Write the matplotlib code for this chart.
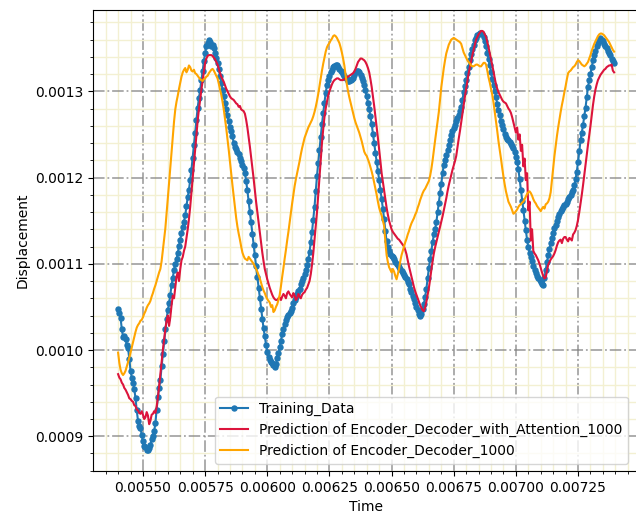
import numpy as np
import matplotlib
matplotlib.use('Agg')
import matplotlib.pyplot as plt
from matplotlib.ticker import AutoMinorLocator

# time axis: samples 5 us apart
t_start = 0.0054
t_step = 0.000005

# displacement values, in units of 1e-3
training_data = [
    1.048, 1.043, 1.037, 1.024, 1.015, 1.016, 1.013, 1.006, 1.002, 0.990, 0.976, 0.968, 0.962, 0.955, 0.944, 0.930, 0.918, 0.912, 0.910, 0.901,
    0.894, 0.889, 0.888, 0.884, 0.884, 0.886, 0.890, 0.897, 0.900, 0.906, 0.915, 0.931, 0.945, 0.956, 0.965, 0.981, 0.995, 1.010, 1.024, 1.036,
    1.046, 1.054, 1.064, 1.075, 1.084, 1.093, 1.100, 1.105, 1.112, 1.121, 1.128, 1.136, 1.143, 1.149, 1.156, 1.167, 1.177, 1.186, 1.197, 1.209,
    1.223, 1.238, 1.252, 1.267, 1.281, 1.292, 1.301, 1.313, 1.323, 1.335, 1.344, 1.352, 1.356, 1.359, 1.357, 1.353, 1.354, 1.350, 1.345, 1.339,
    1.333, 1.326, 1.318, 1.310, 1.302, 1.295, 1.287, 1.279, 1.272, 1.265, 1.259, 1.254, 1.248, 1.240, 1.235, 1.233, 1.230, 1.227, 1.223, 1.219,
    1.214, 1.211, 1.205, 1.196, 1.185, 1.173, 1.160, 1.148, 1.135, 1.122, 1.110, 1.097, 1.085, 1.072, 1.060, 1.048, 1.036, 1.025, 1.016, 1.006,
    0.998, 0.992, 0.989, 0.986, 0.985, 0.983, 0.980, 0.984, 0.991, 0.997, 1.003, 1.011, 1.018, 1.024, 1.030, 1.035, 1.038, 1.041, 1.043, 1.045,
    1.049, 1.055, 1.058, 1.061, 1.065, 1.068, 1.071, 1.076, 1.080, 1.084, 1.088, 1.093, 1.099, 1.105, 1.114, 1.125, 1.137, 1.151, 1.166, 1.184,
    1.202, 1.217, 1.232, 1.247, 1.262, 1.275, 1.287, 1.298, 1.307, 1.313, 1.318, 1.322, 1.325, 1.328, 1.329, 1.331, 1.330, 1.328, 1.326, 1.324,
    1.322, 1.320, 1.318, 1.316, 1.314, 1.312, 1.312, 1.313, 1.314, 1.316, 1.319, 1.322, 1.324, 1.324, 1.322, 1.319, 1.316, 1.312, 1.307, 1.301,
    1.294, 1.287, 1.279, 1.271, 1.262, 1.251, 1.240, 1.229, 1.218, 1.208, 1.197, 1.186, 1.175, 1.164, 1.152, 1.138, 1.126, 1.119, 1.115, 1.111,
    1.109, 1.108, 1.105, 1.102, 1.100, 1.099, 1.096, 1.094, 1.092, 1.089, 1.087, 1.085, 1.082, 1.079, 1.076, 1.071, 1.067, 1.063, 1.059, 1.054,
    1.050, 1.046, 1.042, 1.040, 1.042, 1.047, 1.053, 1.062, 1.071, 1.083, 1.095, 1.105, 1.115, 1.125, 1.134, 1.140, 1.148, 1.160, 1.171, 1.182,
    1.193, 1.205, 1.215, 1.220, 1.226, 1.232, 1.238, 1.244, 1.249, 1.254, 1.258, 1.261, 1.265, 1.269, 1.273, 1.277, 1.282, 1.290, 1.299, 1.306,
    1.313, 1.321, 1.328, 1.336, 1.343, 1.349, 1.354, 1.359, 1.362, 1.365, 1.366, 1.368, 1.368, 1.366, 1.363, 1.358, 1.352, 1.345, 1.337, 1.330,
    1.322, 1.314, 1.307, 1.300, 1.293, 1.285, 1.278, 1.272, 1.266, 1.261, 1.256, 1.251, 1.247, 1.245, 1.243, 1.241, 1.239, 1.237, 1.234, 1.230,
    1.224, 1.218, 1.210, 1.198, 1.185, 1.173, 1.162, 1.150, 1.139, 1.128, 1.119, 1.113, 1.108, 1.103, 1.098, 1.093, 1.089, 1.086, 1.083, 1.081,
    1.079, 1.077, 1.075, 1.083, 1.093, 1.102, 1.110, 1.117, 1.124, 1.130, 1.136, 1.141, 1.145, 1.150, 1.154, 1.158, 1.161, 1.164, 1.166, 1.168,
    1.169, 1.172, 1.175, 1.178, 1.180, 1.183, 1.186, 1.191, 1.198, 1.207, 1.218, 1.231, 1.243, 1.252, 1.261, 1.271, 1.281, 1.293, 1.305, 1.313,
    1.320, 1.328, 1.336, 1.342, 1.347, 1.352, 1.356, 1.360, 1.362, 1.360, 1.358, 1.355, 1.352, 1.350, 1.347, 1.345, 1.342, 1.338, 1.335, 1.333,
]

pred_attention = [
    0.972, 0.968, 0.966, 0.962, 0.960, 0.956, 0.954, 0.951, 0.948, 0.944, 0.943, 0.941, 0.940, 0.936, 0.935, 0.931, 0.930, 0.927, 0.926, 0.929,
    0.925, 0.920, 0.922, 0.928, 0.924, 0.914, 0.918, 0.925, 0.926, 0.929, 0.927, 0.934, 0.945, 0.958, 0.972, 0.986, 1.000, 1.012, 1.024, 1.034,
    1.040, 1.028, 1.038, 1.052, 1.063, 1.060, 1.072, 1.085, 1.090, 1.080, 1.094, 1.104, 1.108, 1.115, 1.120, 1.130, 1.140, 1.152, 1.166, 1.183,
    1.200, 1.216, 1.232, 1.249, 1.266, 1.279, 1.290, 1.302, 1.312, 1.323, 1.333, 1.338, 1.341, 1.342, 1.342, 1.342, 1.341, 1.339, 1.337, 1.334,
    1.331, 1.326, 1.321, 1.317, 1.314, 1.311, 1.307, 1.303, 1.300, 1.297, 1.294, 1.292, 1.291, 1.290, 1.288, 1.286, 1.285, 1.282, 1.283, 1.279,
    1.278, 1.277, 1.274, 1.267, 1.258, 1.247, 1.236, 1.224, 1.212, 1.199, 1.185, 1.172, 1.160, 1.147, 1.135, 1.124, 1.113, 1.103, 1.094, 1.088,
    1.082, 1.077, 1.072, 1.068, 1.064, 1.061, 1.059, 1.058, 1.058, 1.060, 1.061, 1.058, 1.062, 1.065, 1.063, 1.060, 1.066, 1.068, 1.065, 1.063,
    1.061, 1.066, 1.063, 1.058, 1.060, 1.065, 1.062, 1.060, 1.064, 1.066, 1.067, 1.070, 1.072, 1.076, 1.080, 1.088, 1.099, 1.112, 1.128, 1.143,
    1.160, 1.180, 1.201, 1.221, 1.240, 1.256, 1.270, 1.280, 1.288, 1.295, 1.300, 1.304, 1.308, 1.311, 1.313, 1.314, 1.315, 1.315, 1.314, 1.313,
    1.313, 1.313, 1.314, 1.315, 1.316, 1.317, 1.318, 1.319, 1.320, 1.321, 1.323, 1.326, 1.330, 1.334, 1.336, 1.338, 1.338, 1.337, 1.336, 1.334,
    1.331, 1.327, 1.322, 1.314, 1.305, 1.294, 1.283, 1.271, 1.259, 1.246, 1.233, 1.219, 1.205, 1.195, 1.185, 1.175, 1.165, 1.157, 1.150, 1.145,
    1.140, 1.137, 1.135, 1.133, 1.131, 1.129, 1.128, 1.126, 1.124, 1.122, 1.120, 1.116, 1.111, 1.104, 1.097, 1.091, 1.085, 1.079, 1.073, 1.068,
    1.064, 1.060, 1.056, 1.052, 1.049, 1.046, 1.045, 1.049, 1.056, 1.064, 1.072, 1.082, 1.093, 1.103, 1.112, 1.119, 1.125, 1.131, 1.137, 1.143,
    1.149, 1.155, 1.162, 1.169, 1.176, 1.184, 1.191, 1.197, 1.203, 1.209, 1.214, 1.219, 1.225, 1.235, 1.245, 1.254, 1.264, 1.274, 1.284, 1.294,
    1.303, 1.312, 1.321, 1.328, 1.335, 1.342, 1.348, 1.354, 1.360, 1.363, 1.366, 1.368, 1.370, 1.370, 1.369, 1.366, 1.363, 1.357, 1.351, 1.344,
    1.337, 1.330, 1.323, 1.315, 1.308, 1.303, 1.299, 1.296, 1.293, 1.290, 1.288, 1.287, 1.286, 1.283, 1.280, 1.278, 1.275, 1.270, 1.264, 1.258,
    1.252, 1.258, 1.244, 1.250, 1.231, 1.238, 1.213, 1.222, 1.197, 1.205, 1.162, 1.172, 1.127, 1.140, 1.115, 1.112, 1.110, 1.107, 1.104, 1.100,
    1.095, 1.090, 1.086, 1.083, 1.084, 1.092, 1.099, 1.102, 1.105, 1.107, 1.109, 1.112, 1.116, 1.121, 1.125, 1.127, 1.128, 1.124, 1.129, 1.131,
    1.131, 1.128, 1.126, 1.130, 1.129, 1.127, 1.134, 1.136, 1.139, 1.144, 1.151, 1.160, 1.170, 1.180, 1.191, 1.203, 1.215, 1.227, 1.238, 1.249,
    1.260, 1.272, 1.284, 1.294, 1.302, 1.308, 1.313, 1.316, 1.319, 1.321, 1.323, 1.325, 1.326, 1.328, 1.329, 1.330, 1.330, 1.331, 1.324, 1.322,
]

pred_plain = [
    0.997, 0.985, 0.977, 0.973, 0.971, 0.973, 0.976, 0.981, 0.986, 0.991, 0.997, 1.003, 1.009, 1.015, 1.021, 1.026, 1.029, 1.031, 1.034, 1.035,
    1.038, 1.042, 1.045, 1.049, 1.052, 1.054, 1.057, 1.062, 1.066, 1.071, 1.075, 1.080, 1.085, 1.090, 1.094, 1.103, 1.116, 1.128, 1.141, 1.158,
    1.176, 1.194, 1.212, 1.230, 1.248, 1.265, 1.279, 1.288, 1.295, 1.303, 1.310, 1.317, 1.322, 1.325, 1.327, 1.322, 1.325, 1.330, 1.328, 1.324,
    1.323, 1.325, 1.321, 1.320, 1.318, 1.316, 1.314, 1.313, 1.312, 1.314, 1.315, 1.317, 1.318, 1.321, 1.323, 1.325, 1.326, 1.324, 1.321, 1.318,
    1.315, 1.309, 1.302, 1.296, 1.288, 1.279, 1.268, 1.257, 1.245, 1.232, 1.218, 1.204, 1.191, 1.178, 1.165, 1.153, 1.143, 1.135, 1.128, 1.120,
    1.113, 1.109, 1.106, 1.105, 1.104, 1.108, 1.106, 1.104, 1.102, 1.100, 1.097, 1.094, 1.091, 1.087, 1.083, 1.078, 1.073, 1.069, 1.066, 1.062,
    1.059, 1.057, 1.055, 1.050, 1.052, 1.044, 1.046, 1.050, 1.053, 1.058, 1.064, 1.074, 1.085, 1.095, 1.106, 1.116, 1.127, 1.137, 1.148, 1.159,
    1.170, 1.180, 1.190, 1.198, 1.205, 1.212, 1.219, 1.227, 1.234, 1.240, 1.246, 1.250, 1.254, 1.258, 1.261, 1.264, 1.267, 1.271, 1.276, 1.282,
    1.289, 1.297, 1.306, 1.315, 1.324, 1.332, 1.339, 1.346, 1.351, 1.354, 1.356, 1.359, 1.361, 1.364, 1.365, 1.364, 1.362, 1.359, 1.356, 1.351,
    1.345, 1.338, 1.330, 1.319, 1.308, 1.300, 1.293, 1.287, 1.281, 1.275, 1.269, 1.264, 1.260, 1.256, 1.252, 1.247, 1.242, 1.236, 1.230, 1.227,
    1.225, 1.221, 1.217, 1.212, 1.207, 1.201, 1.194, 1.187, 1.180, 1.172, 1.165, 1.160, 1.156, 1.150, 1.144, 1.126, 1.110, 1.102, 1.096, 1.093,
    1.090, 1.094, 1.091, 1.086, 1.082, 1.088, 1.094, 1.103, 1.110, 1.115, 1.120, 1.125, 1.129, 1.134, 1.138, 1.143, 1.147, 1.150, 1.153, 1.157,
    1.160, 1.165, 1.169, 1.174, 1.178, 1.182, 1.185, 1.187, 1.190, 1.193, 1.196, 1.202, 1.210, 1.220, 1.232, 1.243, 1.254, 1.265, 1.276, 1.291,
    1.305, 1.316, 1.327, 1.336, 1.344, 1.349, 1.354, 1.357, 1.360, 1.361, 1.362, 1.361, 1.360, 1.359, 1.358, 1.357, 1.355, 1.350, 1.345, 1.342,
    1.339, 1.336, 1.334, 1.332, 1.330, 1.329, 1.329, 1.330, 1.331, 1.331, 1.330, 1.329, 1.329, 1.331, 1.333, 1.333, 1.331, 1.324, 1.316, 1.310,
    1.303, 1.296, 1.287, 1.276, 1.265, 1.254, 1.242, 1.232, 1.222, 1.211, 1.201, 1.192, 1.184, 1.178, 1.172, 1.169, 1.166, 1.162, 1.158, 1.159,
    1.161, 1.163, 1.166, 1.168, 1.169, 1.171, 1.172, 1.175, 1.178, 1.181, 1.183, 1.184, 1.182, 1.179, 1.175, 1.172, 1.170, 1.167, 1.165, 1.163,
    1.161, 1.164, 1.166, 1.164, 1.169, 1.170, 1.172, 1.176, 1.183, 1.197, 1.212, 1.225, 1.237, 1.248, 1.258, 1.267, 1.276, 1.284, 1.291, 1.299,
    1.306, 1.314, 1.321, 1.323, 1.324, 1.326, 1.328, 1.329, 1.331, 1.334, 1.336, 1.335, 1.333, 1.331, 1.330, 1.329, 1.330, 1.332, 1.334, 1.338,
    1.342, 1.347, 1.351, 1.355, 1.358, 1.361, 1.364, 1.366, 1.367, 1.367, 1.366, 1.365, 1.363, 1.361, 1.359, 1.357, 1.354, 1.351, 1.348, 1.346,
]

series_labels = ['Training_Data',
                 'Prediction of Encoder_Decoder_with_Attention_1000',
                 'Prediction of Encoder_Decoder_1000']

time = t_start + t_step * np.arange(len(training_data))
scale = 1e-3

fig = plt.figure(figsize=(6.36, 5.14), dpi=100)
ax = fig.add_axes([93.3 / 636, 43 / 514, 545.6 / 636, 461 / 514])

ax.plot(time, np.array(training_data) * scale, color='#1f77b4', marker='o',
        markersize=3.6, lw=1.5, label=series_labels[0])
ax.plot(time, np.array(pred_attention) * scale, color='crimson', lw=1.5,
        label=series_labels[1])
ax.plot(time, np.array(pred_plain) * scale, color='orange', lw=1.5,
        label=series_labels[2])

ax.xaxis.set_minor_locator(AutoMinorLocator(5))
ax.yaxis.set_minor_locator(AutoMinorLocator(5))
ax.grid(which='major', color='gray', linestyle='-.', lw=1.3, alpha=0.7)
ax.grid(which='minor', color='#f3f0d2', linestyle='-', lw=1.0)
ax.set_axisbelow(True)

ax.set_xlabel('Time')
ax.set_ylabel('Displacement')
ax.legend(loc='lower right', bbox_to_anchor=(0.993, 0.0))

fig.savefig('out.png', dpi=100)
